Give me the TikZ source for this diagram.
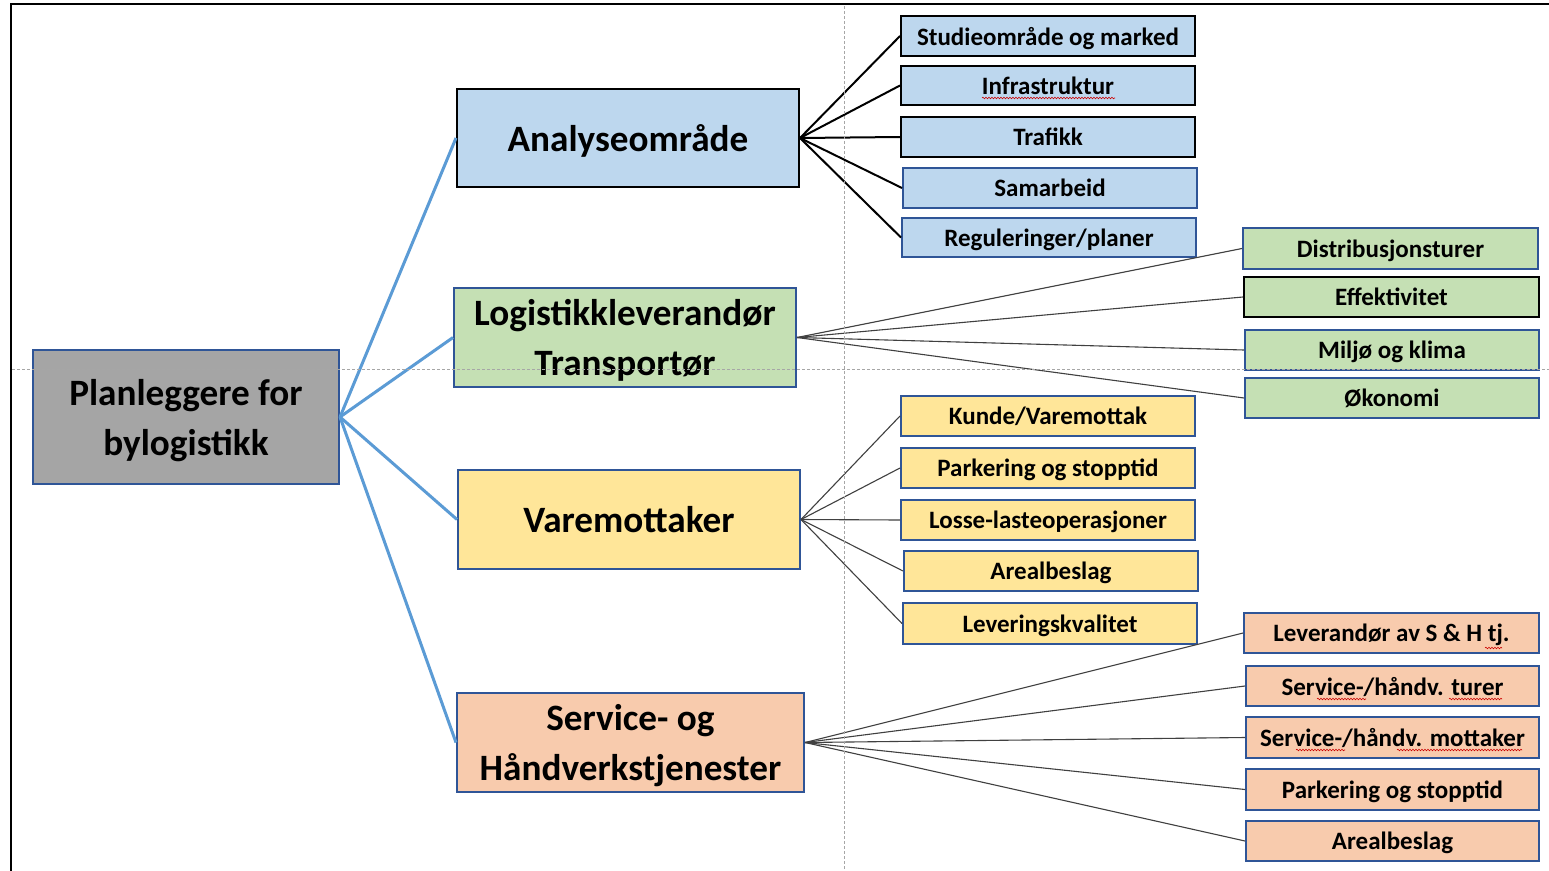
\documentclass[tikz,border=0pt]{standalone}
\usepackage{fontspec}
\setmainfont{Carlito}
\usetikzlibrary{decorations.pathmorphing}
\definecolor{bord}{HTML}{2F5597}
\definecolor{cblue}{HTML}{BDD7EE}
\definecolor{cgreen}{HTML}{C5E0B4}
\definecolor{cyellow}{HTML}{FFE699}
\definecolor{corange}{HTML}{F8CBAD}
\definecolor{cgray}{HTML}{A5A5A5}
\definecolor{rootline}{HTML}{5B9BD5}
\newcommand{\bx}[7]{\node[#6, minimum width={(#4-#2)*1pt}, minimum height={(#5-#3)*1pt}] (#1) at ({(#2+#4)/2},{(#3+#5)/2}) {#7};}
\tikzset{
  box/.style={draw=bord, line width=2pt, inner sep=0pt, align=center, text depth=0pt},
  mainbox/.style={box, font=\fontsize{37.2}{50}\selectfont\bfseries},
  leaf/.style={box, font=\fontsize{25}{28}\selectfont\bfseries},
  blk/.style={draw=black},
  rootlink/.style={draw=rootline, line width=3pt},
  alink/.style={draw=black, line width=2pt},
  thinlink/.style={draw=black!75, line width=1.1pt},
  guide/.style={draw=black!35, line width=0.7pt, dash pattern=on 3pt off 2pt},
  squig/.style={draw=red!80!black, line width=0.6pt, decorate, decoration={snake, amplitude=0.8pt, segment length=3pt}}
}
\begin{document}
\begin{tikzpicture}[x=1pt,y=-1pt]
\useasboundingbox (0,0) rectangle (1549,870);
\fill[white] (0,0) rectangle (1549,870);
\draw[line width=2.5pt] (11,872) -- (11,4) -- (1551,4);

% root and main boxes
\bx{root}{33}{350}{339}{484}{mainbox, fill=cgray}{Planleggere for\\bylogistikk}
\bx{ana}{457}{89}{799}{187}{mainbox, fill=cblue, blk}{Analyseområde}
\bx{log}{454}{288}{796}{387}{mainbox, fill=cgreen}{Logistikkleverandør\\Transportør}
\bx{var}{458}{470}{800}{569}{mainbox, fill=cyellow}{Varemottaker}
\bx{ser}{457}{693}{804}{792}{mainbox, fill=corange}{Service- og\\Håndverkstjenester}

% analyse leaves
\bx{a1}{901}{16}{1195}{56}{leaf, fill=cblue, blk}{Studieområde og marked}
\bx{a2}{901}{66}{1195}{105}{leaf, fill=cblue, blk}{Infrastruktur}
\bx{a3}{901}{117}{1195}{157}{leaf, fill=cblue, blk}{Trafikk}
\bx{a4}{903}{168}{1197}{208}{leaf, fill=cblue}{Samarbeid}
\bx{a5}{902}{218}{1196}{257}{leaf, fill=cblue}{Reguleringer/planer}

% logistics leaves
\bx{l1}{1243}{228}{1538}{269}{leaf, fill=cgreen}{Distribusjonsturer}
\bx{l2}{1244}{277}{1539}{317}{leaf, fill=cgreen, blk}{Effektivitet}
\bx{l3}{1245}{330}{1539}{370}{leaf, fill=cgreen}{Miljø og klima}
\bx{l4}{1245}{378}{1539}{418}{leaf, fill=cgreen}{Økonomi}

% varemottaker leaves
\bx{v1}{901}{396}{1195}{436}{leaf, fill=cyellow}{Kunde/Varemottak}
\bx{v2}{901}{448}{1195}{488}{leaf, fill=cyellow}{Parkering og stopptid}
\bx{v3}{901}{500}{1195}{540}{leaf, fill=cyellow}{Losse-lasteoperasjoner}
\bx{v4}{904}{551}{1198}{591}{leaf, fill=cyellow}{Arealbeslag}
\bx{v5}{903}{603}{1197}{644}{leaf, fill=cyellow}{Leveringskvalitet}

% service leaves
\bx{s1}{1244}{613}{1539}{653}{leaf, fill=corange}{Leverandør av S \& H tj.}
\bx{s2}{1246}{666}{1539}{706}{leaf, fill=corange}{Service-/håndv. turer}
\bx{s3}{1246}{717}{1539}{758}{leaf, fill=corange}{Service-/håndv. mottaker}
\bx{s4}{1246}{769}{1539}{810}{leaf, fill=corange}{Parkering og stopptid}
\bx{s5}{1246}{821}{1539}{861}{leaf, fill=corange}{Arealbeslag}

% connectors
\foreach \m in {ana,log,var,ser} \path[rootlink] (root.east) -- (\m.west);
\foreach \l in {a1,a2,a3,a4,a5} \path[alink] (ana.east) -- (\l.west);
\foreach \l in {l1,l2,l3,l4} \path[thinlink] (log.east) -- (\l.west);
\foreach \l in {v1,v2,v3,v4,v5} \path[thinlink] (var.east) -- (\l.west);
\foreach \l in {s1,s2,s3,s4,s5} \path[thinlink] (ser.east) -- (\l.west);

% spell-check marks
\path[squig] (982,98) -- (1115,98);
\path[squig] (1485,648) -- (1502,648);
\path[squig] (1317,699) -- (1366,699);
\path[squig] (1449,699) -- (1502,699);
\path[squig] (1296,750) -- (1345,750);
\path[squig] (1397,750) -- (1522,750);

% guide lines
\path[guide] (844,6) -- (844,870);
\path[guide] (12,369) -- (1549,369);
\end{tikzpicture}
\end{document}
